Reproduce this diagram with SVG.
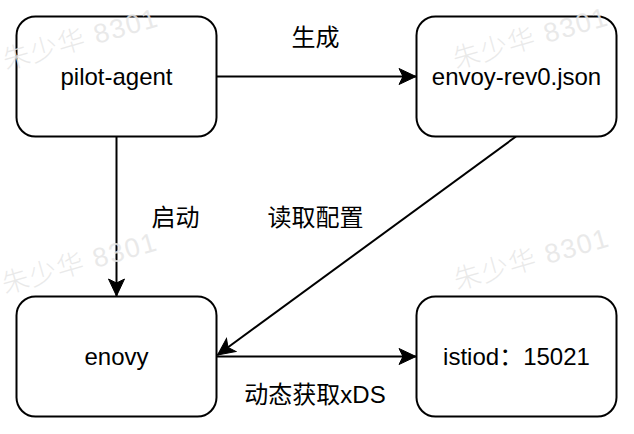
<svg xmlns="http://www.w3.org/2000/svg" width="634" height="434" viewBox="0 0 634 434">
<style>
.node rect{fill:#fff;stroke:#000;stroke-width:2}
text{font-family:"Liberation Sans","Noto Sans CJK SC",sans-serif;font-size:24px;fill:#000}
.lbl{text-anchor:middle}
.wm{font-family:"Liberation Sans","Noto Sans CJK SC",sans-serif;font-size:27px;font-weight:300;fill:#e6e6e6;fill-opacity:0.85;letter-spacing:1.5px}
.edge{fill:none;stroke:#000;stroke-width:2}
</style>
<defs>
<marker id="arr" markerUnits="userSpaceOnUse" markerWidth="20" markerHeight="20" viewBox="-18 -10 20 20" refX="0" refY="0" orient="auto">
<path d="M0,0 L-17,-8 L-13,0 L-17,8 Z" fill="#000" stroke="#000" stroke-width="1" stroke-linejoin="miter"/>
</marker>
</defs>
<rect width="634" height="434" fill="#fff"/>
<g id="edges">
<line class="edge" x1="216.5" y1="76.5" x2="416" y2="76.5" marker-end="url(#arr)"/>
<line class="edge" x1="116.5" y1="136.5" x2="116.5" y2="296" marker-end="url(#arr)"/>
<line class="edge" x1="516" y1="136.5" x2="217.5" y2="355" marker-end="url(#arr)"/>
<line class="edge" x1="216.5" y1="356.5" x2="416" y2="356.5" marker-end="url(#arr)"/>
<text class="lbl" x="315.5" y="46">生成</text>
<text class="lbl" x="175.5" y="226">启动</text>
<text class="lbl" x="315.5" y="226">读取配置</text>
<text class="lbl" x="315" y="403">动态获取xDS</text>
</g>
<g id="pilot-agent" class="node">
<rect x="16.5" y="16.5" width="200" height="120" rx="19" ry="19"/>
<text class="lbl" x="116.5" y="84.5">pilot-agent</text>
</g>
<g id="envoy-rev0" class="node">
<rect x="416.5" y="16.5" width="200" height="120" rx="19" ry="19"/>
<text class="lbl" x="516.5" y="84.5">envoy-rev0.json</text>
</g>
<g id="enovy" class="node">
<rect x="16.5" y="296.5" width="200" height="120" rx="19" ry="19"/>
<text class="lbl" x="116.5" y="364.5">enovy</text>
</g>
<g id="istiod" class="node">
<rect x="416.5" y="296.5" width="200" height="120" rx="19" ry="19"/>
<text class="lbl" x="516.5" y="364.5">istiod：15021</text>
</g>
<g id="watermarks">
<text class="wm" transform="translate(6,70) rotate(-16)">朱少华 8301</text>
<text class="wm" transform="translate(456,69) rotate(-16)">朱少华 8301</text>
<text class="wm" transform="translate(5,294) rotate(-16)">朱少华 8301</text>
<text class="wm" transform="translate(457,290) rotate(-16)">朱少华 8301</text>
</g>
</svg>
